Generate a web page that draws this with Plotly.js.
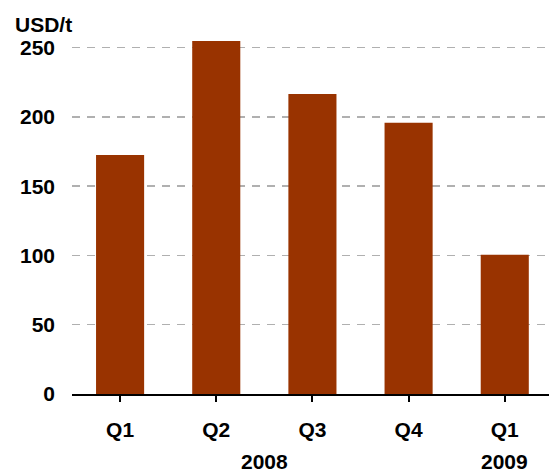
<!DOCTYPE html>
<html>
<head>
<meta charset="utf-8">
<script src="https://cdn.plot.ly/plotly-3.0.1.min.js"></script>
<style>html,body{margin:0;padding:0;background:#fff;}#chart{width:549px;height:472px;}</style>
</head>
<body>
<div id="chart"></div>
<script>
const quarters = ['Q1', 'Q2', 'Q3', 'Q4', 'Q1'];
const positions = [0, 1, 2, 3, 4];
const prices = [172.5, 254.8, 216.6, 195.7, 100.5];
const years = ['2008', '2009'];
const yearPositions = [1.5, 4];
const yTicks = [0, 50, 100, 150, 200, 250];
const unitLabel = 'USD/t';

const font = {family: 'Arial, "Liberation Sans", sans-serif', size: 21, color: '#000', weight: 'bold'};

const trace = {
  type: 'bar',
  x: positions,
  y: prices,
  marker: {color: '#993300', line: {width: 0}},
  width: 0.5,
  hoverinfo: 'none'
};

const annotations = years.map((t, i) => ({
  text: t, x: yearPositions[i], xref: 'x', y: -0.186, yref: 'paper',
  xanchor: 'center', yanchor: 'middle', showarrow: false, font: font
}));
annotations.push({
  text: unitLabel, x: -0.1235, xref: 'paper', y: 1.018, yref: 'paper',
  xanchor: 'left', yanchor: 'middle', showarrow: false, font: font
});

const layout = {
  width: 549, height: 472,
  margin: {l: 72, r: 0, t: 31, b: 78},
  paper_bgcolor: '#fff', plot_bgcolor: '#fff',
  showlegend: false,
  font: font,
  xaxis: {
    range: [-0.5, 4.46],
    tickmode: 'array', tickvals: positions, ticktext: quarters,
    tickson: 'boundaries',
    ticks: 'outside', ticklen: 6, tickwidth: 2, tickcolor: '#000',
    showline: true, linecolor: '#000', linewidth: 2,
    showgrid: false, zeroline: false,
    ticklabelstandoff: 10,
    tickfont: font, fixedrange: true
  },
  yaxis: {
    range: [0, 262],
    tickmode: 'array', tickvals: yTicks,
    showline: false, zeroline: false,
    showgrid: true, gridcolor: '#b0b0b0', gridwidth: 1.5, griddash: '8px,7px',
    ticks: '', ticklabelstandoff: 16,
    tickfont: font, fixedrange: true
  },
  annotations: annotations
};

Plotly.newPlot('chart', [trace], layout, {displayModeBar: false, staticPlot: true});
</script>
</body>
</html>
